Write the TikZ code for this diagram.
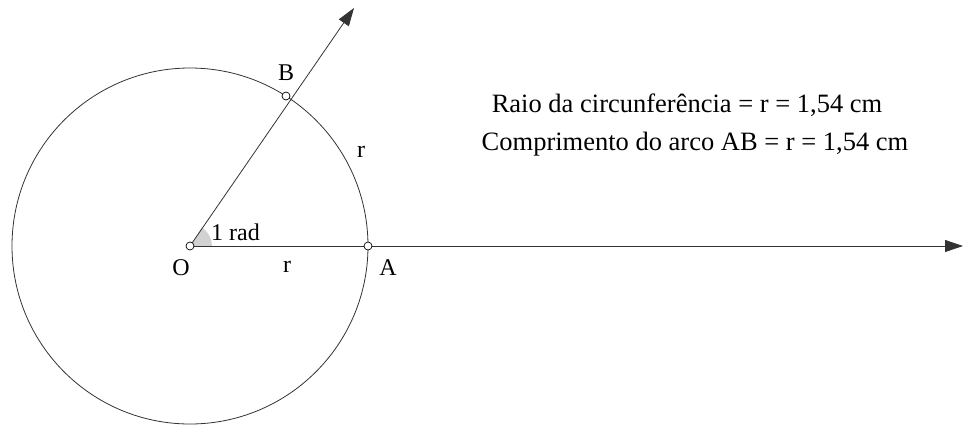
\documentclass[tikz,border=0pt]{standalone}
\usepackage{fontspec}
\setmainfont{Liberation Serif}
\usetikzlibrary{arrows.meta}
\begin{document}
\begin{tikzpicture}[x=1pt,y=-1pt,
  thinline/.style={line width=0.8pt, draw=black!80},
  pt/.style={circle, draw=black, fill=white, line width=0.7pt, inner sep=0pt, minimum size=8pt},
  lab/.style={font=\fontsize{24}{28}\selectfont, inner sep=0pt, anchor=base},
  txt/.style={font=\fontsize{26.5}{30}\selectfont, inner sep=0pt, anchor=base},
  tip/.style={-{Triangle[length=18pt,width=12pt]}}]
\useasboundingbox (0,0) rectangle (963,429);
\coordinate (Oc) at (190,246);
\fill[gray!35] (Oc) -- ++(22,0) arc[start angle=0, end angle=-57.3, radius=22] -- cycle;
\draw[thinline] (Oc) circle[radius=178];
\coordinate (Aend) at (963,246);
\coordinate (Bend) at (354,8);
\draw[thinline, tip] (Oc) -- (Aend);
\draw[thinline, tip] (Oc) -- (Bend);
\node[pt] (O) at (190,246) {};
\node[pt] (A) at (368,246) {};
\node[pt] (B) at (286,96) {};
\node[lab] (lO) at (181,275) {O};
\node[lab] (lA) at (388,275) {A};
\node[lab] (lB) at (286,80) {B};
\node[lab] (lr1) at (287,272) {r};
\node[lab] (lr2) at (361,157) {r};
\node[lab, anchor=base west] (lrad) at (211,240) {1 rad};
\node[txt] (t1) at (687,112) {Raio da circunferência = r = 1,54 cm};
\node[txt] (t2) at (695,150) {Comprimento do arco AB = r = 1,54 cm};
\end{tikzpicture}
\end{document}
